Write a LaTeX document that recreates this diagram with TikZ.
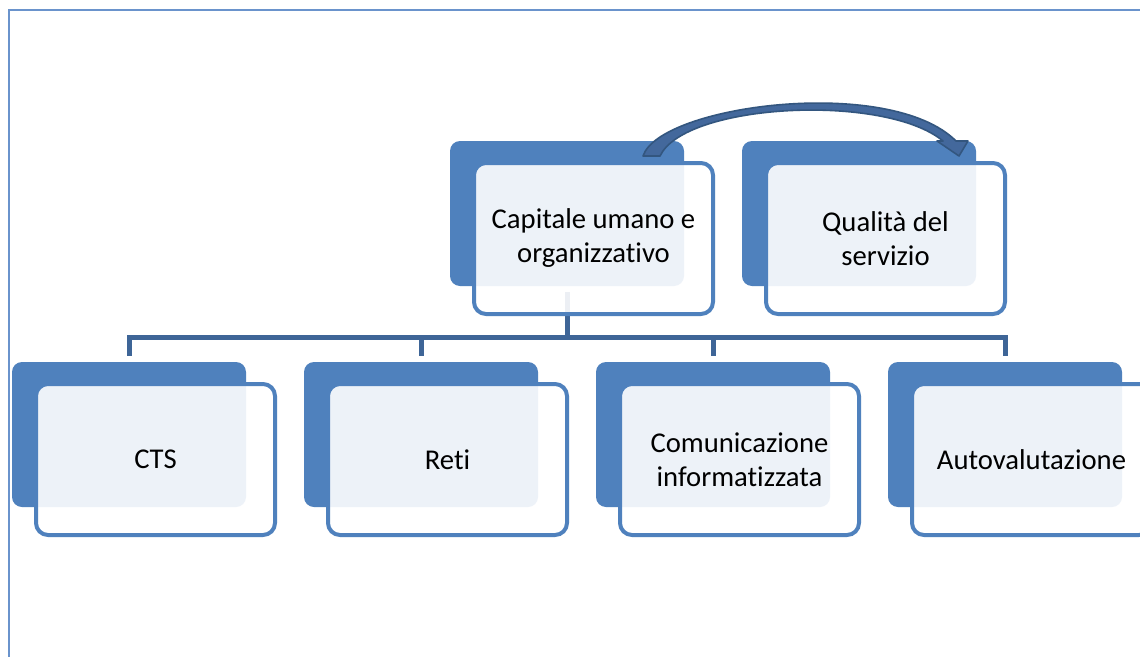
\documentclass[tikz,border=0pt]{standalone}
\usepackage{fontspec}
\setmainfont[Ligatures={NoCommon}]{Carlito}
\usetikzlibrary{calc}
\definecolor{boxblue}{HTML}{4F81BD}
\definecolor{connblue}{HTML}{3E6597}
\definecolor{arrowfill}{HTML}{43689C}
\definecolor{arrowline}{HTML}{33567F}
\definecolor{framecol}{HTML}{6A93CC}
\tikzset{
 backbox/.style={fill=boxblue, draw=none, rounded corners=7.5pt, minimum width=175.5pt, minimum height=108.75pt, inner sep=0pt, outer sep=0pt, anchor=north west},
 frontbox/.style={fill=white, fill opacity=0.9, text opacity=1, draw=boxblue, draw opacity=1, line width=3pt, rounded corners=9pt, minimum width=179.25pt, minimum height=113.25pt, inner sep=0pt, outer sep=0pt, align=center, text=black, font=\fontsize{21.5pt}{25.5pt}\selectfont},
 conn/.style={draw=connblue, line width=3.75pt, line join=miter},
 curvearrow/.style={fill=arrowfill, draw=arrowline, line width=1.2pt, line join=round},
 framestyle/.style={draw=framecol, line width=1.5pt},
}
\begin{document}
\begin{tikzpicture}[x=0.75pt,y=-0.75pt]
\useasboundingbox (0,0) rectangle (1140,657);
\clip (0,0) rectangle (1140,657);
\fill[white] (0,0) rectangle (1140,657);
% frame (partly outside the picture)
\draw[framestyle] (9,670) -- (9,10) -- (1160,10);

% back boxes
\node[backbox] (capB) at (450,141) {};
\node[backbox] (qualB) at (742,141) {};
\node[backbox] (ctsB) at (12,362) {};
\node[backbox] (retiB) at (304,362) {};
\node[backbox] (comB) at (596,362) {};
\node[backbox] (autoB) at (888,362) {};

% connectors
\coordinate (stemTop) at ([yshift=-4.5pt]capB.south);
\coordinate (bus) at (stemTop |- 0,337);
\draw[conn] (stemTop) -- (bus) -| ([yshift=4.5pt]ctsB.north);
\draw[conn] (bus) -| ([yshift=4.5pt]retiB.north);
\draw[conn] (bus) -| ([yshift=4.5pt]comB.north);
\draw[conn] (bus) -| ([yshift=4.5pt]autoB.north);

% front boxes
\node[frontbox] (cap) at (593.5,238.5) {Capitale umano e\\organizzativo};
\node[frontbox] (qual) at (885.5,238.5) {Qualità del\\servizio};
\node[frontbox] (cts) at (155.5,459.5) {CTS};
\node[frontbox] (reti) at (447.5,459.5) {Reti};
\node[frontbox] (com) at (739.5,459.5) {Comunicazione\\informatizzata};
\node[frontbox] (auto) at (1031.5,459.5) {Autovalutazione};

% curved block arrow from capB to qualB
\coordinate (arrS) at ([shift={(201.5,15)}]capB.north west);
\coordinate (arrE) at ([shift={(217,15)}]qualB.north west);
\path[curvearrow]
  ($(arrS)+(-8.5,0)$) .. controls ($(arrS)+(8.5,-51)$) and ($(arrE)+(-69,-81)$) .. ($(arrE)+(-3,-15)$)
  -- ($(arrE)+(9,-15)$) -- (arrE) -- ($(arrE)+(-22,-15)$) -- ($(arrE)+(-16,-15)$)
  .. controls ($(arrE)+(-74,-63)$) and ($(arrS)+(33.5,-53)$) .. ($(arrS)+(8.5,0)$) -- cycle;
\end{tikzpicture}
\end{document}
